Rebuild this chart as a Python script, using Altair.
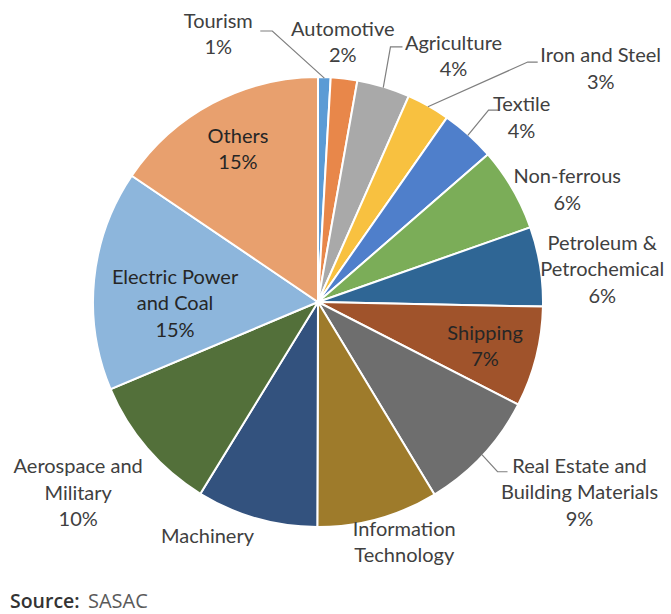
import altair as alt
import pandas as pd
import numpy as np

# ---------------- data ----------------
categories = ["Tourism", "Automotive", "Agriculture", "Iron and Steel", "Textile",
              "Non-ferrous", "Petroleum & Petrochemical", "Shipping",
              "Real Estate and Building Materials", "Information Technology",
              "Machinery", "Aerospace and Military", "Electric Power and Coal", "Others"]
shares = [0.9, 1.9, 3.8, 3.1, 3.9, 6.0, 5.7, 7.2, 8.8, 8.7, 8.7, 9.9, 15.8, 15.5]
pct_labels = ["1%", "2%", "4%", "3%", "4%", "6%", "6%", "7%", "9%", "", "", "10%", "15%", "15%"]
label_lines = ["Tourism", "Automotive", "Agriculture", "Iron and Steel", "Textile",
               "Non-ferrous", "Petroleum &\nPetrochemical", "Shipping",
               "Real Estate and\nBuilding Materials", "Information\nTechnology",
               "Machinery", "Aerospace and\nMilitary", "Electric Power\nand Coal", "Others"]
colors = ["#5B9BD5", "#E8874A", "#A9A9A9", "#F8C140", "#4F7FCB", "#7BAD58", "#2F6695",
          "#A0532B", "#6E6E6E", "#9E7B2B", "#33527E", "#53703A", "#8DB6DC", "#E8A06E"]

# ---------------- layout ----------------
W, H = 671, 614
CX, CY = 318, 302
RADIUS = 225
LINE_H = 26.5
label_dtheta = [-22.1, -1.2, 12, 21.2, 6, 6.1, 2.7, 0.9, -6.8, -4.2, 9.3, 2.0, -6.6, 0.2]
label_r = [285, 260, 280, 366, 274, 273, 286, 173, 324, 256, 260, 307, 143, 172]
inside = {"Shipping", "Electric Power and Coal", "Others"}
# leader: elbow offset from label centre (screen px, y down) and tick length
leaders = {
    "Tourism": (54, -4, -12),
    "Agriculture": (-63, -10, 12),
    "Iron and Steel": (-73, -7.5, 10),
    "Textile": (-33, -8.5, 10),
    "Real Estate and Building Materials": (-82, -21.5, 10),
}

total = sum(shares)
cum = np.cumsum([0] + shares[:-1])
mid_deg = [(c + s / 2) / total * 360 for c, s in zip(cum, shares)]

pie_df = pd.DataFrame({"category": categories, "share": shares, "idx": range(len(shares))})

lab_rows = []
centres = []
for i, cat in enumerate(categories):
    a = np.radians(mid_deg[i] + label_dtheta[i])
    txt = label_lines[i] + ("\n" + pct_labels[i] if pct_labels[i] else "")
    n_lines = txt.count("\n") + 1
    cx_, cy_ = label_r[i] * np.sin(a), label_r[i] * np.cos(a)
    centres.append((cx_, cy_))
    lab_rows.append({"category": cat, "text": txt,
                     "X": cx_, "Y": cy_ + (n_lines - 1) * LINE_H / 2,
                     "tcolor": "#262626" if cat in inside else "#404040"})
lab_df = pd.DataFrame(lab_rows)

lead_rows = []
for i, cat in enumerate(categories):
    if cat not in leaders:
        continue
    ex, ey, tick = leaders[cat]
    a = np.radians(mid_deg[i])
    lx, ly = centres[i]
    pts = [((RADIUS - 1) * np.sin(a), (RADIUS - 1) * np.cos(a)),
           (lx + ex, ly - ey), (lx + ex + tick, ly - ey)]
    for k, (px, py) in enumerate(pts):
        lead_rows.append({"category": cat, "k": k, "X": px, "Y": py})
lead_df = pd.DataFrame(lead_rows)

xs = alt.Scale(domain=[-CX, W - CX], nice=False, zero=False)
ys = alt.Scale(domain=[CY - H, CY], nice=False, zero=False)

pie = alt.Chart(pie_df).mark_arc(outerRadius=RADIUS, stroke="white", strokeWidth=2).encode(
    theta=alt.Theta("share:Q", stack=True),
    order=alt.Order("idx:Q"),
    color=alt.Color("category:N", scale=alt.Scale(domain=categories, range=colors), legend=None),
    x=alt.value(CX), y=alt.value(CY),
)

labels = alt.Chart(lab_df).mark_text(font="Lato", fontSize=20, lineHeight=LINE_H, align="center",
                                     baseline="middle", lineBreak="\n").encode(
    x=alt.X("X:Q", scale=xs, axis=None),
    y=alt.Y("Y:Q", scale=ys, axis=None),
    text="text:N",
    color=alt.Color("tcolor:N", scale=None),
)

lines = alt.Chart(lead_df).mark_line(color="#7F7F7F", strokeWidth=1.2).encode(
    x=alt.X("X:Q", scale=xs, axis=None),
    y=alt.Y("Y:Q", scale=ys, axis=None),
    detail="category:N",
    order="k:Q",
)

src1 = alt.Chart(pd.DataFrame({"t": ["Source:"]})).mark_text(
    font="Open Sans", fontSize=19.5, fontWeight=600, align="left",
    baseline="middle", color="#333333").encode(x=alt.value(10), y=alt.value(602), text="t:N")
src2 = alt.Chart(pd.DataFrame({"t": ["SASAC"]})).mark_text(
    font="Open Sans", fontSize=20, align="left",
    baseline="middle", color="#5a5a5a").encode(x=alt.value(88), y=alt.value(602), text="t:N")

chart = alt.layer(pie, lines, labels, src1, src2).properties(
    width=W, height=H, padding=0, autosize=alt.AutoSizeParams(type="none"), background="white"
).configure_view(stroke=None)

chart.save("out.html", embed_options={"renderer": "svg", "actions": False})
